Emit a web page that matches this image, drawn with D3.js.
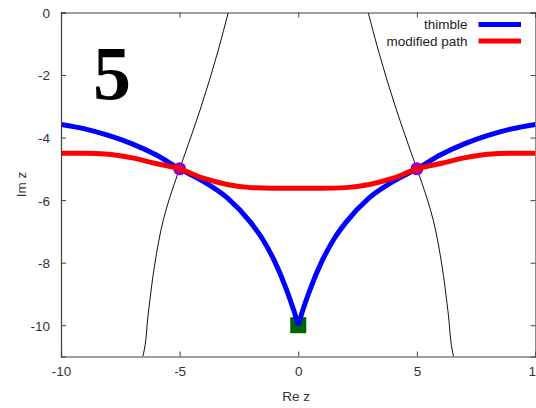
<!DOCTYPE html>
<html>
<head>
<meta charset="utf-8">
<script src="https://cdn.jsdelivr.net/npm/d3@7"></script>
<style>
  html, body { margin: 0; padding: 0; background: #fff; }
  svg { display: block; }
  .tick text { font-family: "Liberation Sans", Arial, sans-serif; font-size: 13.5px; fill: #333; }
</style>
</head>
<body>
<svg id="chart" width="536" height="408"></svg>
<script>
// Tick values
const xTicks = [-10, -5, 0, 5, 10];
const yTicks = [0, -2, -4, -6, -8, -10];

// Thimble contour (x, Im z)
const thimbleX = [-10, -9, -8, -7, -6, -5, -4, -3, -2, -1.5, -1, -0.5, -0.2, 0,
                  0.2, 0.5, 1, 1.5, 2, 3, 4, 5, 6, 7, 8, 9, 10];
const thimbleY = [-3.58, -3.72, -3.93, -4.2, -4.55, -5.0, -5.4, -5.92, -6.72, -7.25, -7.95, -8.85, -9.5, -10,
                  -9.5, -8.85, -7.95, -7.25, -6.72, -5.92, -5.4, -5.0, -4.55, -4.2, -3.93, -3.72, -3.58];

// Modified integration path
const pathX = [-10, -9, -8, -7, -6, -5, -4, -3, -2, -1, 0, 1, 2, 3, 4, 5, 6, 7, 8, 9, 10];
const pathY = [-4.5, -4.5, -4.53, -4.65, -4.83, -5.0, -5.3, -5.5, -5.6, -5.62, -5.62, -5.62, -5.6, -5.5, -5.3, -5.0, -4.83, -4.65, -4.53, -4.5, -4.5];

// Thin black curves (left and right branch)
const leftCurveX  = [-2.95, -3.37, -4.14, -4.72, -5.0, -5.17, -5.69, -6.04, -6.32, -6.53, -6.56];
const leftCurveY  = [0, -1.2, -3.12, -4.4, -5.0, -5.36, -6.64, -8.01, -9.61, -10.95, -11];
const rightCurveX = [2.95, 3.37, 4.14, 4.72, 5.0, 5.17, 5.69, 6.04, 6.32, 6.53, 6.56];
const rightCurveY = [0, -1.2, -3.12, -4.4, -5.0, -5.36, -6.64, -8.01, -9.61, -10.95, -11];

// Saddle points and endpoint
const saddleX = [-5, 5];
const saddleY = [-5, -5];
const endX = [0];
const endY = [-10];

const legendLabels = ["thimble", "modified path"];
const legendColors = ["#0000ff", "#ff0000"];

const margin = { left: 61, right: 0.5, top: 12.5, bottom: 51.5 };
const W = 536, H = 408;
const svg = d3.select("#chart");

const x = d3.scaleLinear().domain([-10, 10]).range([margin.left, W - margin.right]);
const y = d3.scaleLinear().domain([-11, 0]).range([H - margin.bottom, margin.top]);

const clipId = "plotclip";
svg.append("clipPath").attr("id", clipId)
  .append("rect")
  .attr("x", x(-10)).attr("y", y(0))
  .attr("width", x(10) - x(-10)).attr("height", y(-11) - y(0));

const plot = svg.append("g").attr("clip-path", `url(#${clipId})`);

// Black thin curves
const curveLine = d3.line().x(d => x(d[0])).y(d => y(d[1])).curve(d3.curveMonotoneY);
[[leftCurveX, leftCurveY], [rightCurveX, rightCurveY]].forEach(([xs, ys]) => {
  plot.append("path")
    .datum(xs.map((v, i) => [v, ys[i]]).reverse())
    .attr("d", curveLine)
    .attr("fill", "none")
    .attr("stroke", "#111")
    .attr("stroke-width", 1);
});

// Endpoint square
const sq = 16;
plot.selectAll(".endpt").data(endX.map((v, i) => [v, endY[i]])).enter()
  .append("rect")
  .attr("x", d => x(d[0]) - sq / 2)
  .attr("y", d => y(d[1]) - sq / 2)
  .attr("width", sq).attr("height", sq)
  .attr("fill", "#006400");

// Thimble: left and right halves meet at the cusp
const thimblePts = thimbleX.map((v, i) => [v, thimbleY[i]]);
const monoLine = d3.line().x(d => x(d[0])).y(d => y(d[1])).curve(d3.curveMonotoneX);
[thimblePts.filter(d => d[0] <= 0), thimblePts.filter(d => d[0] >= 0)].forEach(seg => {
  plot.append("path")
    .datum(seg)
    .attr("d", monoLine)
    .attr("fill", "none")
    .attr("stroke", legendColors[0])
    .attr("stroke-width", 5)
    .attr("stroke-linejoin", "round");
});

// Saddle point markers
plot.selectAll(".saddle").data(saddleX.map((v, i) => [v, saddleY[i]])).enter()
  .append("circle")
  .attr("cx", d => x(d[0]))
  .attr("cy", d => y(d[1]))
  .attr("r", 6.5)
  .attr("fill", "#9400d3");

// Modified path
plot.append("path")
  .datum(pathX.map((v, i) => [v, pathY[i]]))
  .attr("d", monoLine)
  .attr("fill", "none")
  .attr("stroke", legendColors[1])
  .attr("stroke-width", 5)
  .attr("stroke-linejoin", "round");

// Axes with inward ticks
const axisColor = "#404040";
const tk = 5;
const gx = svg.append("g").attr("transform", `translate(0,${y(-11)})`)
  .call(d3.axisBottom(x).tickValues(xTicks).tickSize(-tk).tickPadding(10).tickFormat(d3.format("d")));
const gxt = svg.append("g").attr("transform", `translate(0,${y(0)})`)
  .call(d3.axisTop(x).tickValues(xTicks).tickSize(-tk).tickFormat(""));
const gy = svg.append("g").attr("transform", `translate(${x(-10)},0)`)
  .call(d3.axisLeft(y).tickValues(yTicks).tickSize(-tk).tickPadding(11).tickFormat(d3.format("d")));
const gyr = svg.append("g").attr("transform", `translate(${x(10)},0)`)
  .call(d3.axisRight(y).tickValues(yTicks).tickSize(-tk).tickFormat(""));
[gx, gxt, gy, gyr].forEach(g => {
  g.select(".domain").attr("stroke", axisColor).attr("stroke-width", 1.2);
  g.selectAll(".tick line").attr("stroke", axisColor);
  g.selectAll(".tick text").text(function() { return this.textContent.replace("\u2212", "-"); });
});
gy.selectAll(".tick text").attr("dy", "0.36em");

// Axis titles
svg.append("text")
  .attr("x", x(0) - 2).attr("y", 401)
  .attr("text-anchor", "middle")
  .style("font-family", "Liberation Sans, Arial, sans-serif")
  .style("font-size", "13.5px").style("fill", "#333")
  .text("Re z");
svg.append("text")
  .attr("transform", `translate(26,${(y(0) + y(-11)) / 2}) rotate(-90)`)
  .attr("text-anchor", "middle")
  .style("font-family", "Liberation Sans, Arial, sans-serif")
  .style("font-size", "13.5px").style("fill", "#333")
  .text("Im z");

// Panel number
svg.append("text")
  .attr("x", 112).attr("y", 99)
  .attr("text-anchor", "middle")
  .style("font-family", "Liberation Serif, Times New Roman, serif")
  .style("font-weight", "bold")
  .style("font-size", "76px")
  .style("fill", "#000")
  .text("5");

// Legend
const lg = svg.append("g");
legendLabels.forEach((lab, i) => {
  const ly = 24.5 + i * 16.5;
  lg.append("text")
    .attr("x", 467.5).attr("y", ly)
    .attr("dy", "0.35em")
    .attr("text-anchor", "end")
    .style("font-family", "Liberation Sans, Arial, sans-serif")
    .style("font-size", "13.5px").style("fill", "#222")
    .text(lab);
  lg.append("line")
    .attr("x1", 478.5).attr("x2", 521)
    .attr("y1", ly).attr("y2", ly)
    .attr("stroke", legendColors[i])
    .attr("stroke-width", 5);
});
</script>
</body>
</html>
